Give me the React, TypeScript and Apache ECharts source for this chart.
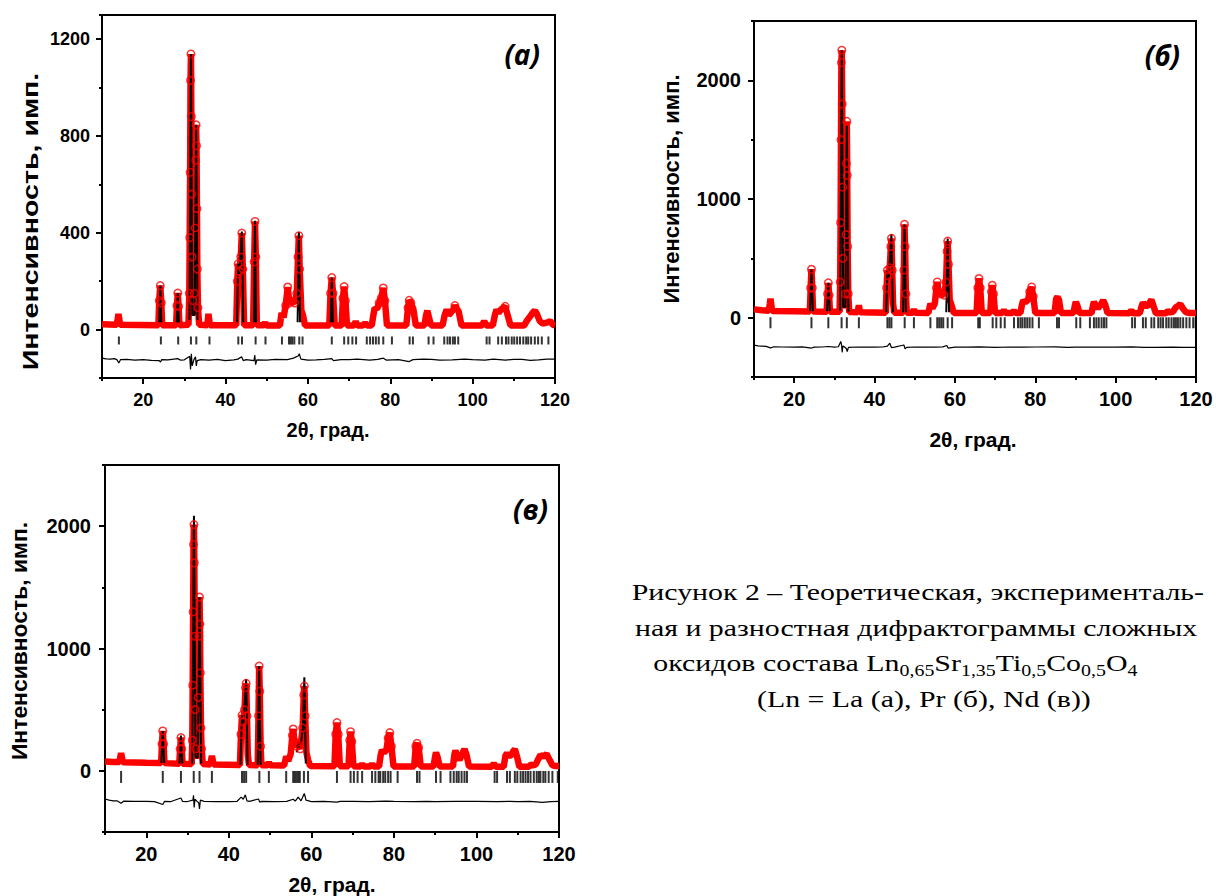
import React, { useEffect, useRef } from 'react';
import * as echarts from 'echarts';

// ---------- shared ----------
const X_MAJOR = [20, 40, 60, 80, 100, 120];
const Y_TITLE = 'Интенсивность, имп.';
const X_TITLE = '2θ, град.';

// ---------- panel (а) ----------
const A_OBS: [number, number][] = [
  [10, 22], [13.6, 20], [14.0, 65], [14.4, 20],
  [23.7, 18], [23.9, 120], [24.15, 182], [24.4, 110], [24.6, 18],
  [28.0, 18], [28.2, 100], [28.4, 151], [28.6, 95], [28.8, 18],
  [31.0, 20], [31.2, 150], [31.3, 380], [31.4, 650], [31.5, 1030], [31.6, 1139], [31.7, 880], [31.8, 560], [31.9, 300], [32.05, 120], [32.25, 60],
  [32.45, 150], [32.6, 420], [32.75, 700], [32.85, 846], [32.95, 760], [33.05, 500], [33.15, 250], [33.3, 90], [33.6, 20],
  [35.6, 18], [35.85, 65], [36.2, 18],
  [42.6, 18], [42.85, 200], [43.05, 272], [43.35, 240], [43.7, 300], [43.95, 399], [44.2, 250], [44.5, 18],
  [46.7, 18], [46.95, 280], [47.15, 447], [47.35, 300], [47.6, 18],
  [49.3, 18], [49.6, 30], [49.9, 17],
  [53.2, 17], [53.6, 69], [54.1, 50], [54.6, 100], [55.1, 176], [55.5, 110], [56.2, 117], [56.8, 110], [57.3, 150], [57.6, 300], [57.8, 388], [58.0, 250], [58.4, 80], [58.8, 60], [59.3, 17],
  [65.2, 17], [65.5, 150], [65.8, 215], [66.1, 150], [66.5, 17],
  [68.2, 17], [68.5, 130], [68.8, 178], [69.1, 120], [69.5, 17],
  [71.2, 17], [71.6, 33], [72.0, 17],
  [73.4, 17], [73.9, 27], [74.4, 17],
  [75.5, 17], [75.9, 60], [76.2, 89], [76.8, 85], [77.3, 110], [77.8, 130], [78.3, 172], [78.7, 120], [79.2, 17],
  [83.9, 17], [84.3, 90], [84.6, 121], [85.0, 110], [85.6, 85], [86.2, 17],
  [88.3, 17], [88.7, 60], [89.0, 78], [89.4, 50], [89.9, 17],
  [92.7, 17], [93.2, 60], [93.7, 82], [94.2, 60], [94.7, 70], [95.2, 80], [95.7, 99], [96.2, 85], [96.6, 75], [97.3, 17],
  [102.3, 17], [102.8, 35], [103.3, 17],
  [104.9, 17], [105.4, 60], [105.8, 82], [106.3, 70], [107.0, 85], [107.9, 96], [108.5, 60], [109.2, 17],
  [112.5, 17], [113.3, 40], [114.0, 55], [114.6, 70], [115.1, 78], [115.6, 65], [116.3, 35], [117.0, 25], [118.2, 30], [118.8, 35], [119.5, 20], [120, 18],
];
const A_CALC: [number, number][][] = [
  [[23.9, 30], [24.15, 182], [24.4, 30]],
  [[28.15, 30], [28.4, 151], [28.65, 30]],
  [[31.25, 40], [31.6, 1139], [31.95, 60], [32.5, 60], [32.85, 846], [33.2, 40]],
  [[42.8, 30], [43.05, 272], [43.4, 230], [43.95, 405], [44.3, 30]],
  [[46.9, 30], [47.15, 450], [47.4, 30]],
  [[57.5, 30], [57.8, 403], [58.1, 30]],
  [[65.55, 30], [65.8, 215], [66.05, 30]],
];
const A_BRAGG = [14.1, 24.3, 28.5, 31.6, 32.9, 36.1, 43.1, 44.0, 47.3, 49.7, 53.7, 55.4, 55.8, 56.2, 56.7, 57.9, 58.7,
  65.8, 68.8, 69.8, 70.8, 71.7, 74.3, 75.1, 75.8, 76.5, 77.2, 78.3, 80.4, 84.7, 85.5, 89.3, 90.5, 93.1, 93.9, 94.5, 95.2,
  95.7, 96.5, 103.4, 104.1, 106.2, 107.1, 108.1, 108.7, 109.5, 110.1, 110.8, 111.5, 112.3, 113.0, 113.5, 114.2, 115.1,
  115.9, 116.8, 118.4];
const A_DIFF: [number, number][] = [
  [10, -118], [11, -121], [12, -122], [13, -120], [13.6, -124], [14.1, -138], [14.5, -124], [16, -123], [18, -126], [20, -124],
  [22, -127], [23.9, -128], [24.2, -134], [24.5, -124], [26, -125], [28.4, -120], [29, -126], [30, -125], [31.3, -110],
  [31.5, -165], [31.7, -100], [31.9, -150], [32.3, -125], [32.7, -112], [32.9, -150], [33.1, -128], [34, -124], [36, -126],
  [38, -123], [40, -128], [42, -125], [43.0, -122], [43.9, -112], [44.3, -128], [45, -124], [46.9, -128], [47.1, -105],
  [47.3, -145], [47.6, -125], [50, -126], [52, -123], [55, -124], [56.5, -118], [57.7, -108], [57.9, -100], [58.3, -122],
  [60, -126], [62, -125], [64, -123], [65.8, -120], [66.2, -128], [68, -124], [70, -124], [72, -122], [75, -126], [77, -123],
  [78.3, -118], [79, -126], [82, -124], [84.6, -132], [85.5, -124], [88, -122], [90, -123], [92, -126], [95, -125],
  [98, -122], [100, -124], [103, -126], [105, -122], [108, -126], [110, -123], [112, -123], [114, -127], [116, -125], [118, -122], [120, -122],
];

// ---------- panel (б) ----------
const B_OBS: [number, number][] = [
  [10, 70], [12, 62], [13.7, 58], [13.95, 120], [14.1, 160], [14.3, 110], [14.5, 57],
  [20, 54], [23.9, 52], [24.1, 250], [24.3, 408], [24.5, 250], [24.7, 52],
  [28.1, 50], [28.3, 200], [28.5, 293], [28.7, 190], [28.9, 49],
  [31.3, 50], [31.45, 300], [31.55, 800], [31.65, 1500], [31.75, 2150], [31.85, 2254], [31.95, 1800], [32.05, 1100], [32.15, 500], [32.3, 150], [32.6, 80],
  [32.75, 200], [32.9, 700], [33.0, 1300], [33.1, 1654], [33.2, 1200], [33.3, 600], [33.45, 200], [33.7, 48],
  [35.8, 46], [36.1, 104], [36.4, 46],
  [42.8, 42], [43.0, 250], [43.2, 400], [43.5, 350], [43.8, 420], [44.05, 600], [44.2, 668], [44.4, 400], [44.6, 120], [44.9, 42],
  [47.1, 42], [47.3, 400], [47.45, 786], [47.6, 600], [47.8, 200], [48.0, 42],
  [49.5, 41], [49.8, 70], [50.1, 41],
  [53.4, 40], [53.9, 118], [54.4, 80], [55.0, 120], [55.4, 250], [55.6, 301], [55.9, 220], [56.5, 200], [56.8, 203], [57.3, 190], [57.8, 300], [58.05, 560], [58.2, 645], [58.4, 450], [58.7, 150], [59.2, 100], [59.7, 40],
  [65.4, 40], [65.7, 250], [66.0, 330], [66.3, 250], [66.7, 40],
  [68.8, 40], [69.1, 220], [69.3, 273], [69.6, 200], [70.0, 40],
  [71.8, 40], [72.2, 62], [72.6, 40],
  [74.3, 40], [74.7, 58], [75.1, 40],
  [76.3, 40], [76.7, 110], [77.0, 146], [77.5, 130], [78.2, 150], [78.6, 220], [79.1, 259], [79.5, 180], [80.0, 40],
  [84.8, 39], [85.2, 160], [85.5, 174], [85.9, 150], [86.4, 39],
  [89.5, 39], [89.9, 110], [90.1, 132], [90.5, 100], [91.0, 39],
  [94.0, 39], [94.4, 110], [94.6, 132], [95.1, 100], [95.6, 80], [96.5, 120], [96.9, 146], [97.4, 110], [98.0, 39],
  [103.4, 38], [103.9, 60], [104.4, 38],
  [106.0, 38], [106.5, 100], [106.8, 127], [107.3, 100], [108.0, 100], [108.5, 130], [108.9, 150], [109.4, 100], [110.0, 38],
  [112.5, 38], [113.0, 55], [113.5, 45],
  [114.3, 50], [114.9, 85], [115.6, 100], [116.1, 115], [116.7, 80], [117.5, 45], [118.5, 40], [120, 40],
];
const B_CALC: [number, number][][] = [
  [[23.95, 55], [24.3, 408], [24.65, 55]],
  [[28.15, 55], [28.5, 293], [28.85, 55]],
  [[31.45, 60], [31.85, 2254], [32.2, 90], [32.75, 90], [33.1, 1620], [33.5, 50]],
  [[42.9, 45], [43.2, 400], [43.55, 340], [44.2, 704], [44.55, 45]],
  [[47.1, 45], [47.45, 786], [47.8, 45]],
  [[57.85, 45], [58.2, 668], [58.55, 45]],
];
const B_BRAGG = [14.1, 24.3, 28.5, 31.8, 33.1, 36.1, 43.2, 43.7, 44.2, 47.5, 49.8, 53.9, 55.6, 56.1, 56.6, 57.1, 58.2, 59.3,
  65.8, 66.2, 69.4, 70.3, 71.4, 72.4, 74.7, 75.7, 76.3, 76.8, 77.4, 78.0, 78.6, 79.3, 80.9, 85.4, 85.9, 90.2, 91.2, 93.6,
  94.6, 95.2, 95.8, 96.5, 97.1, 97.7, 104.1, 104.8, 106.8, 107.5, 108.9, 109.6, 110.6, 111.2, 111.8, 112.6, 113.2, 113.9,
  114.5, 115.0, 115.5, 116.1, 116.8, 117.6, 118.4, 119.3, 119.9];
const B_DIFF: [number, number][] = [
  [10, -232], [11, -238], [12, -240], [13, -242], [14.1, -255], [15, -245], [17, -247], [20, -248], [22, -246],
  [24.3, -256], [25, -248], [27, -247], [28.5, -243], [30, -248], [31.0, -245], [31.6, -200], [31.8, -232], [31.95, -292],
  [32.1, -240], [32.6, -248], [33.0, -262], [33.2, -285], [33.5, -250], [36, -247], [38, -249], [40, -248], [42, -247],
  [43.2, -240], [43.8, -215], [44.2, -252], [45, -248], [47.3, -230], [47.6, -262], [48, -250], [50, -247], [52, -249],
  [55, -248], [57, -246], [58.0, -235], [58.3, -256], [60, -248], [63, -249], [66, -246], [70, -250], [74, -247],
  [77, -249], [80, -247], [85, -246], [88, -250], [90, -249], [95, -247], [100, -248], [104, -246], [107, -250],
  [110, -250], [114, -248], [117, -251], [120, -250],
];

// ---------- panel (в) ----------
const C_OBS: [number, number][] = [
  [10, 76], [12, 72], [13.5, 72], [13.75, 120], [13.9, 144], [14.1, 110], [14.3, 71],
  [20, 66], [23.6, 64], [23.8, 220], [24.0, 326], [24.2, 220], [24.4, 63],
  [28.0, 58], [28.2, 180], [28.4, 272], [28.6, 180], [28.8, 57],
  [31.0, 56], [31.15, 250], [31.25, 700], [31.35, 1300], [31.45, 1850], [31.55, 2013], [31.65, 1700], [31.75, 1100], [31.85, 500], [32.0, 180], [32.25, 100],
  [32.45, 150], [32.6, 600], [32.75, 1100], [32.9, 1421], [33.0, 1200], [33.1, 800], [33.25, 350], [33.4, 180], [33.7, 55],
  [35.5, 52], [35.9, 122], [36.3, 52],
  [42.7, 48], [42.95, 300], [43.2, 456], [43.5, 400], [43.8, 500], [44.05, 680], [44.2, 715], [44.4, 450], [44.6, 130], [44.9, 47],
  [47.0, 46], [47.2, 450], [47.35, 856], [47.5, 650], [47.7, 200], [47.9, 46],
  [49.4, 45], [49.7, 70], [50.0, 45],
  [53.4, 43], [53.9, 118], [54.4, 80], [55.0, 140], [55.4, 290], [55.6, 342], [55.9, 240], [56.5, 200], [56.8, 212], [57.3, 180], [57.9, 350], [58.15, 620], [58.3, 693], [58.5, 450], [58.8, 150], [59.2, 90], [59.7, 40],
  [65.6, 38], [65.9, 300], [66.2, 394], [66.5, 300], [66.9, 38],
  [69.0, 37], [69.3, 250], [69.5, 320], [69.8, 240], [70.2, 37],
  [71.9, 36], [72.3, 55], [72.7, 36],
  [74.3, 36], [74.7, 55], [75.1, 36],
  [76.4, 36], [76.8, 130], [77.1, 171], [77.6, 150], [78.2, 170], [78.6, 270], [79.0, 312], [79.4, 200], [79.9, 36],
  [84.9, 35], [85.3, 200], [85.6, 225], [86.0, 190], [86.5, 35],
  [89.6, 35], [90.0, 120], [90.2, 149], [90.6, 110], [91.1, 35],
  [94.3, 35], [94.7, 140], [94.9, 166], [95.4, 120], [95.9, 90], [96.7, 150], [97.1, 177], [97.6, 130], [98.2, 35],
  [103.7, 34], [104.2, 60], [104.7, 34],
  [106.6, 34], [107.0, 120], [107.4, 144], [107.9, 120], [108.5, 130], [108.9, 160], [109.3, 177], [109.8, 120], [110.4, 34],
  [112.7, 34], [113.2, 50], [113.7, 45],
  [114.3, 50], [114.9, 90], [115.5, 130], [116.2, 115], [117.0, 138], [117.7, 90], [118.4, 45], [119.2, 40], [120, 40],
];
const C_CALC: [number, number][][] = [
  [[23.65, 65], [24.0, 326], [24.35, 65]],
  [[28.05, 60], [28.4, 288], [28.75, 60]],
  [[31.15, 60], [31.55, 2086], [31.95, 110], [32.5, 110], [32.9, 1421], [33.3, 60]],
  [[42.8, 50], [43.2, 456], [43.55, 390], [44.2, 750], [44.55, 50]],
  [[47.0, 50], [47.35, 856], [47.7, 50]],
  [[56.45, 150], [56.8, 239], [57.3, 180], [57.95, 350], [58.3, 764], [58.65, 60]],
];
const C_BRAGG = [13.9, 24.0, 28.4, 31.5, 32.9, 35.9, 43.2, 43.7, 44.2, 47.4, 49.7, 53.9, 55.6, 56.0, 56.4, 56.8, 57.2, 58.2, 59.2,
  66.2, 69.5, 70.3, 71.2, 72.3, 74.7, 75.5, 76.3, 76.7, 77.4, 77.9, 78.6, 79.2, 80.9, 85.6, 86.2, 90.2, 91.3, 93.7, 94.5,
  95.2, 95.7, 96.4, 97.1, 97.7, 104.4, 105.0, 107.4, 108.1, 109.3, 109.9, 110.7, 111.3, 111.9, 112.5, 113.1, 113.9, 114.6,
  115.1, 115.5, 116.2, 116.7, 117.5, 118.4, 119.7];
const C_DIFF: [number, number][] = [
  [10, -230], [11, -240], [12, -245], [13, -246], [13.9, -265], [14.5, -248], [17, -250], [20, -250], [22, -252],
  [24.0, -275], [24.4, -250], [26, -251], [28.4, -222], [28.8, -250], [30, -251], [31.3, -240], [31.45, -200], [31.6, -300],
  [31.8, -232], [32.3, -250], [32.7, -260], [32.9, -312], [33.1, -240], [34, -250], [37, -251], [40, -252], [42, -249],
  [43.0, -215], [43.5, -232], [44.0, -196], [44.4, -245], [45, -250], [47.2, -230], [47.5, -256], [48, -250], [51, -251],
  [54, -250], [55.6, -232], [56.1, -248], [56.8, -215], [57.5, -245], [58.3, -185], [58.7, -240], [60, -252], [63, -250],
  [66.2, -256], [67, -249], [70, -250], [74, -251], [78, -247], [80, -249], [85, -251], [88, -249], [90, -252], [95, -249],
  [100, -250], [105, -251], [108, -249], [110, -252], [113, -250], [116, -258], [118, -251], [120, -250],
];

// ---------- caption ----------
const CAPTION_LINES = [
  'Рисунок 2 – Теоретическая, эксперименталь-',
  'ная и разностная дифрактограммы сложных',
  'оксидов состава Ln{s|0,65}Sr{s|1,35}Ti{s|0,5}Co{s|0,5}O{s|4}',
  '(Ln = La (а), Pr (б), Nd (в))',
];

// ---------- helpers ----------
function joinSegments(segs: [number, number][][]) {
  const out: any[] = [];
  segs.forEach((s) => {
    s.forEach((p) => out.push(p));
    out.push([s[s.length - 1][0] + 0.01, '-']);
  });
  return out;
}

const FONT = 'Liberation Sans';

const PANELS = [
  {
    grid: { left: 102, top: 15, width: 453, height: 363 },
    yMin: -200, yMax: 1300, yMajor: [0, 400, 800, 1200], yMinorInt: 200,
    obs: A_OBS, calc: A_CALC, bragg: A_BRAGG, diff: A_DIFF,
    braggY: -45, braggH: 8, circleMin: 90, fontSize: 18, xMargin: 13, yMargin: 12,
  },
  {
    grid: { left: 754, top: 21, width: 442, height: 356 },
    yMin: -500, yMax: 2500, yMajor: [0, 1000, 2000], yMinorInt: 500,
    obs: B_OBS, calc: B_CALC, bragg: B_BRAGG, diff: B_DIFF,
    braggY: -43, braggH: 11, circleMin: 180, fontSize: 20, xMargin: 12, yMargin: 13,
  },
  {
    grid: { left: 105, top: 465, width: 454, height: 367 },
    yMin: -500, yMax: 2500, yMajor: [0, 1000, 2000], yMinorInt: 500,
    obs: C_OBS, calc: C_CALC, bragg: C_BRAGG, diff: C_DIFF,
    braggY: -50, braggH: 12, circleMin: 180, fontSize: 20, xMargin: 12, yMargin: 14,
  },
];

function buildOption() {
  const grid: any[] = [];
  const xAxis: any[] = [];
  const yAxis: any[] = [];
  const series: any[] = [];
  PANELS.forEach((p, i) => {
    grid.push({ ...p.grid, show: true, borderColor: '#000', borderWidth: 2, backgroundColor: 'transparent' });
    const labelStyle = {
      fontSize: p.fontSize, fontWeight: 'bold', fontFamily: FONT, color: '#000',
      formatter: (v: number) => String(v),
    };
    xAxis.push({
      type: 'value', gridIndex: i, min: 10, max: 120, position: 'bottom',
      axisLine: { show: true, onZero: false, lineStyle: { color: '#000', width: 2 } },
      axisTick: { show: true, customValues: X_MAJOR, length: 6, lineStyle: { color: '#000', width: 2 } },
      axisLabel: { show: true, customValues: X_MAJOR, margin: p.xMargin, ...labelStyle },
      splitLine: { show: false },
    });
    xAxis.push({
      type: 'value', gridIndex: i, min: 10, max: 120, interval: 10, position: 'bottom',
      axisLine: { show: false, onZero: false },
      axisTick: { show: true, length: 3, lineStyle: { color: '#000', width: 2 } },
      axisLabel: { show: false }, splitLine: { show: false },
    });
    yAxis.push({
      type: 'value', gridIndex: i, min: p.yMin, max: p.yMax, position: 'left',
      axisLine: { show: true, onZero: false, lineStyle: { color: '#000', width: 2 } },
      axisTick: { show: true, customValues: p.yMajor, length: 6, lineStyle: { color: '#000', width: 2 } },
      axisLabel: { show: true, customValues: p.yMajor, margin: p.yMargin, ...labelStyle },
      splitLine: { show: false },
    });
    yAxis.push({
      type: 'value', gridIndex: i, min: p.yMin, max: p.yMax, interval: p.yMinorInt, position: 'left',
      axisLine: { show: false, onZero: false },
      axisTick: { show: true, length: 3, lineStyle: { color: '#000', width: 2 } },
      axisLabel: { show: false }, splitLine: { show: false },
    });
    const xi = 2 * i;
    const yi = 2 * i;
    series.push({
      type: 'line', xAxisIndex: xi, yAxisIndex: yi, data: p.obs, showSymbol: false,
      lineStyle: { color: '#ff0000', width: 6.5 }, z: 2, silent: true,
    });
    series.push({
      type: 'line', xAxisIndex: xi, yAxisIndex: yi, data: p.diff, showSymbol: false,
      lineStyle: { color: '#000', width: 1.2 }, z: 3, silent: true,
    });
    series.push({
      type: 'scatter', xAxisIndex: xi, yAxisIndex: yi, data: p.bragg.map((x) => [x, p.braggY]),
      symbol: 'rect', symbolSize: [2, p.braggH], itemStyle: { color: '#000' }, z: 3, silent: true,
    });
    series.push({
      type: 'line', xAxisIndex: xi, yAxisIndex: yi, data: joinSegments(p.calc), showSymbol: false,
      connectNulls: false, lineStyle: { color: '#000', width: 2 }, z: 4, silent: true,
    });
    series.push({
      type: 'scatter', xAxisIndex: xi, yAxisIndex: yi, data: p.obs.filter((d) => d[1] >= p.circleMin),
      symbol: 'circle', symbolSize: 7.5,
      itemStyle: { color: 'rgba(0,0,0,0)', borderColor: '#ff0000', borderWidth: 1.5 }, z: 5, silent: true,
    });
  });

  const yTitle = (x: number, y: number, sx: number) => ({
    type: 'text', x, y, rotation: Math.PI / 2, scaleX: sx, scaleY: 1,
    style: { text: Y_TITLE, fontSize: 22, fontWeight: 'bold', fontFamily: FONT, fill: '#000', align: 'center', verticalAlign: 'middle' },
  });
  const xTitle = (x: number, y: number, fs: number) => ({
    type: 'text', x, y,
    style: { text: X_TITLE, fontSize: fs, fontWeight: 'bold', fontFamily: FONT, fill: '#000', align: 'center', verticalAlign: 'middle' },
  });
  const tag = (x: number, y: number, t: string) => ({
    type: 'text', x, y,
    style: { text: t, fontSize: 28, fontWeight: 'bold', fontStyle: 'italic', fontFamily: 'Open Sans', fill: '#000', align: 'right', verticalAlign: 'middle' },
  });
  const capStyle = { fontSize: 24, fontFamily: 'Liberation Serif', fill: '#000', align: 'left', verticalAlign: 'middle' };
  const capX = [631.7, 635, 653.3, 757];
  const capY = [592.5, 628, 663.5, 699];
  const graphic: any[] = [
    yTitle(30, 221.5, 1.3),
    yTitle(671.5, 189, 1.0),
    yTitle(20, 641, 1.04),
    xTitle(328, 430, 20),
    xTitle(973, 439, 21),
    xTitle(332, 884, 21),
    tag(540, 54, '(а)'),
    tag(1180, 55, '(б)'),
    tag(548, 508.5, '(в)'),
  ];
  CAPTION_LINES.forEach((t, k) => {
    graphic.push({
      type: 'text', x: capX[k], y: capY[k], scaleX: 1.245, scaleY: 1,
      style: {
        ...capStyle, text: t,
        rich: { s: { fontSize: 16, fontFamily: 'Liberation Serif', fill: '#000', padding: [14, 0, 0, 0] } },
      },
    });
  });

  return { animation: false, backgroundColor: '#fff', grid, xAxis, yAxis, series, graphic };
}

export default function App() {
  const ref = useRef<HTMLDivElement>(null);
  useEffect(() => {
    if (!ref.current) return;
    const chart = echarts.init(ref.current, undefined, { renderer: 'svg' });
    chart.setOption(buildOption() as any);
    return () => chart.dispose();
  }, []);
  return <div ref={ref} style={{ position: 'absolute', left: 0, top: 0, width: 1216, height: 896, background: '#fff' }} />;
}
